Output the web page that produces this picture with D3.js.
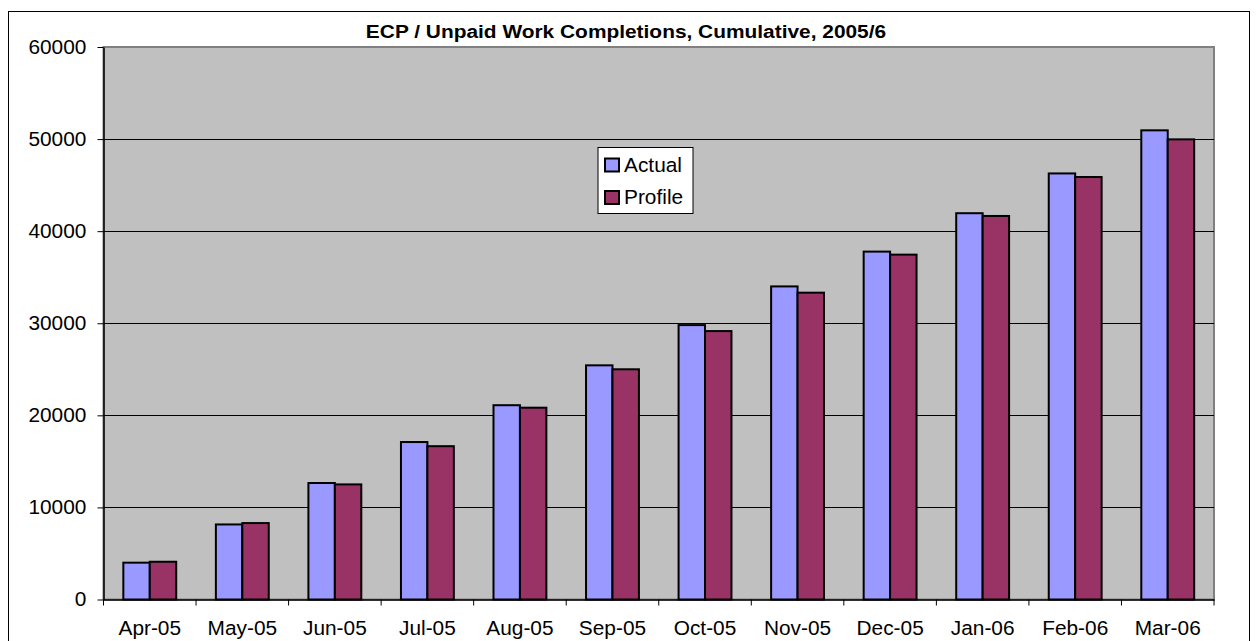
<!DOCTYPE html>
<html>
<head>
<meta charset="utf-8">
<script src="https://cdn.jsdelivr.net/npm/d3@7/dist/d3.min.js"></script>
<style>
  body { margin: 0; background: #fff; }
  text { font-family: "Liberation Sans", Arial, sans-serif; fill: #000; }
</style>
</head>
<body>
<div id="chart"></div>
<script>
// data
const months = ["Apr-05", "May-05", "Jun-05", "Jul-05", "Aug-05", "Sep-05",
                "Oct-05", "Nov-05", "Dec-05", "Jan-06", "Feb-06", "Mar-06"]
const actual = [4000, 8150, 12650, 17100, 21100, 25430, 29800, 34000, 37780, 41950, 46270, 50950]
const profile = [4100, 8300, 12500, 16650, 20830, 25000, 29150, 33320, 37450, 41650, 45880, 49970]
const seriesNames = ["Actual", "Profile"]
const seriesColors = ["#9999FF", "#993366"]
const yTicks = [0, 10000, 20000, 30000, 40000, 50000, 60000]

const WIDTH = 1257, HEIGHT = 641
const PLOT = { LEFT: 103.5, RIGHT: 1214, TOP: 47, BOTTOM: 599.5 }
const FONT = 19.5
const STRETCH = 1.07   // the original text is a bit wider than Arial

const svg = d3.select("#chart").append("svg")
    .attr("width", WIDTH)
    .attr("height", HEIGHT)

// outer chart frame
svg.append("rect")
    .attr("x", 8.5).attr("y", 11.5)
    .attr("width", 1241).attr("height", 700)
    .attr("fill", "#fff")
    .attr("stroke", "#000")

svg.append("text")
    .attr("transform", "translate(626,38) scale(1.13,1)")
    .attr("text-anchor", "middle")
    .attr("font-weight", "bold")
    .attr("font-size", 18.5)
    .text("ECP / Unpaid Work Completions, Cumulative, 2005/6")

const x = d3.scaleBand()
    .domain(months)
    .range([PLOT.LEFT, PLOT.RIGHT])

const y = d3.scaleLinear()
    .domain([0, 60000])
    .range([PLOT.BOTTOM, PLOT.TOP])

// gap width 150% like excel: band = 2 bars + 1.5 bars
const inner = d3.scaleBand()
    .domain(seriesNames)
    .range([0, x.bandwidth()])
    .paddingInner(0)
    .paddingOuter(0.75)

svg.append("rect")
    .attr("x", PLOT.LEFT).attr("y", PLOT.TOP)
    .attr("width", PLOT.RIGHT - PLOT.LEFT)
    .attr("height", PLOT.BOTTOM - PLOT.TOP)
    .attr("fill", "#C0C0C0")
    .attr("stroke", "#808080")
    .attr("stroke-width", 2)

// gridlines
svg.append("g").selectAll("line")
    .data(yTicks.filter(d => d > 0 && d < 60000))
    .enter().append("line")
        .attr("x1", PLOT.LEFT).attr("x2", PLOT.RIGHT)
        .attr("y1", d => Math.round(y(d)) + 0.5)
        .attr("y2", d => Math.round(y(d)) + 0.5)
        .attr("stroke", "#000")

const rows = months.map((m, i) => ({ month: m, values: [actual[i], profile[i]] }))

svg.append("g").selectAll("g")
    .data(rows)
    .enter().append("g")
        .attr("transform", d => `translate(${x(d.month)},0)`)
    .selectAll("rect")
    .data(d => d.values.map((v, j) => ({ name: seriesNames[j], value: v, color: seriesColors[j] })))
    .enter().append("rect")
        .attr("x", d => inner(d.name))
        .attr("y", d => y(d.value))
        .attr("width", inner.bandwidth())
        .attr("height", d => PLOT.BOTTOM - y(d.value))
        .attr("fill", d => d.color)
        .attr("stroke", "#000")
        .attr("stroke-width", 2)

// axes
const yAxis = svg.append("g")
    .attr("transform", `translate(${PLOT.LEFT},0)`)
    .call(d3.axisLeft(y).tickValues(yTicks).tickFormat(d3.format("d"))
        .tickSize(6).tickPadding(10).tickSizeOuter(0))
yAxis.select(".domain").attr("stroke", "#000").attr("stroke-width", 1.5)
yAxis.selectAll("text")
    .attr("font-size", FONT).attr("font-family", null)
    .attr("transform", `scale(${STRETCH},1)`)

const xAxis = svg.append("g")
    .attr("transform", `translate(0,${PLOT.BOTTOM})`)
    .call(d3.axisBottom(x).tickSize(0).tickPadding(22).tickSizeOuter(0))
xAxis.select(".domain").attr("stroke", "#000").attr("stroke-width", 1.5)
xAxis.selectAll("text")
    .attr("font-size", FONT).attr("font-family", null)
    .attr("transform", `scale(${STRETCH},1)`)

// excel puts the category ticks between groups
svg.append("g").selectAll("line")
    .data(months.concat(["end"]))
    .enter().append("line")
        .attr("x1", (d, i) => PLOT.LEFT + i * x.step())
        .attr("x2", (d, i) => PLOT.LEFT + i * x.step())
        .attr("y1", PLOT.BOTTOM)
        .attr("y2", PLOT.BOTTOM + 6)
        .attr("stroke", "#000")

// legend
const legend = svg.append("g").attr("transform", "translate(598,147.5)")
legend.append("rect")
    .attr("width", 95).attr("height", 66)
    .attr("fill", "#fff")
    .attr("stroke", "#000")

seriesNames.forEach((name, i) => {
    const row = legend.append("g").attr("transform", `translate(7,${24 + i * 32.5})`)
    row.append("rect")
        .attr("x", 0).attr("y", -13)
        .attr("width", 14).attr("height", 13)
        .attr("fill", seriesColors[i])
        .attr("stroke", "#000")
        .attr("stroke-width", 2)
    row.append("text")
        .attr("transform", `translate(19,0) scale(${STRETCH},1)`)
        .attr("font-size", FONT)
        .text(name)
})
</script>
</body>
</html>
